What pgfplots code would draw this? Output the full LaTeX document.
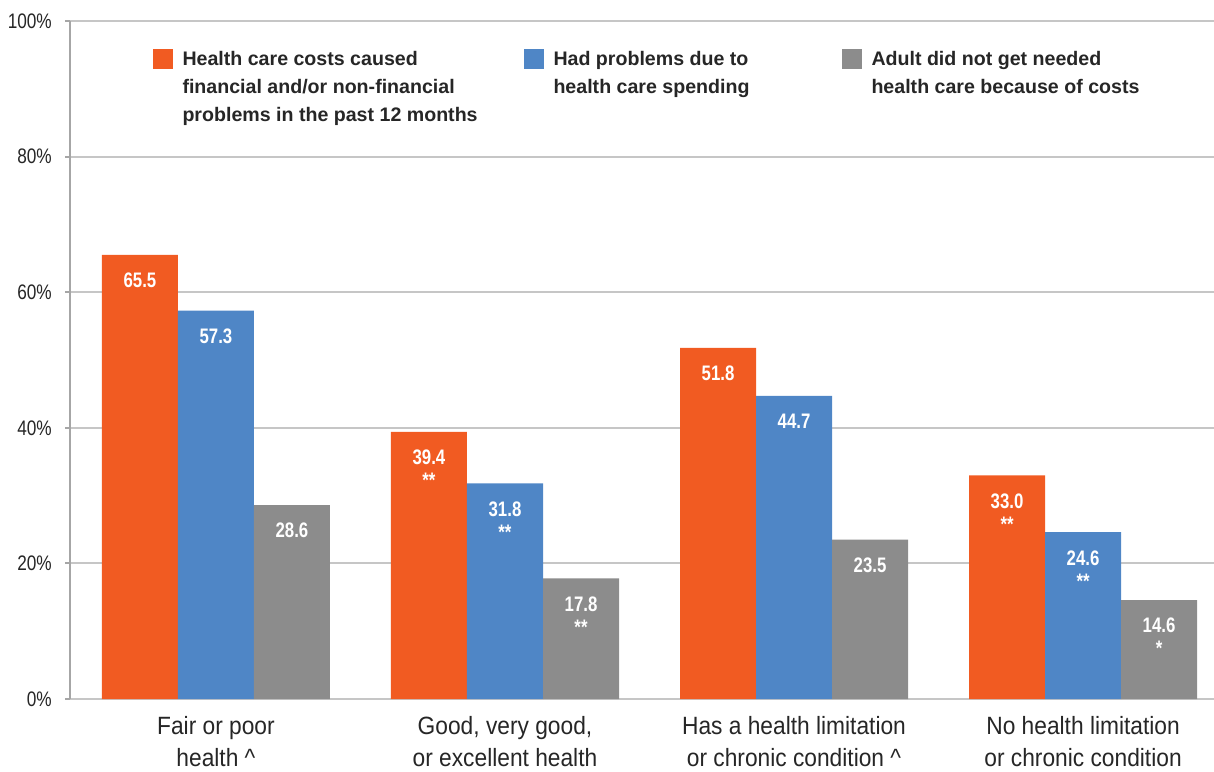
\documentclass[border=0pt]{standalone}
\usepackage{pgfplots}
\pgfplotsset{compat=1.18}
\usepackage{pgfplotstable}
\usepackage{fontspec}
\setmainfont{Liberation Sans}
\newfontfamily\tickfont{Liberation Sans}[FakeStretch=0.82]
\newfontfamily\catfont{Liberation Sans}[FakeStretch=0.91]
\newfontfamily\valfont{Liberation Sans}[FakeStretch=0.8]

\definecolor{costorange}{HTML}{F15B22}
\definecolor{spendblue}{HTML}{4F86C6}
\definecolor{skipgray}{HTML}{8C8C8C}
\definecolor{gridgray}{HTML}{C6C6C6}
\definecolor{axisgray}{HTML}{A6A6A6}
\definecolor{txt}{HTML}{262626}

% x = group, y = percent, lab = printed value, s = number of asterisks
\pgfplotstableread{
x y lab s
0 65.5 65.5 0
1 39.4 39.4 2
2 51.8 51.8 0
3 33.0 33.0 2
}\costs
\pgfplotstableread{
x y lab s
0 57.3 57.3 0
1 31.8 31.8 2
2 44.7 44.7 0
3 24.6 24.6 2
}\spending
\pgfplotstableread{
x y lab s
0 28.6 28.6 0
1 17.8 17.8 2
2 23.5 23.5 0
3 14.6 14.6 1
}\unmet

\pgfplotsset{
  sqbar/.style={ybar, bar width=0.263, bar shift=0pt, draw=none, fill=#1,
    legend image code/.code={\fill[fill=#1] (0pt,-3.4pt) rectangle (20pt,16.6pt);}},
}

\begin{document}
\begin{tikzpicture}
\begin{axis}[
    scale only axis,
    width=1144pt, height=678pt,
    xmin=-0.505, xmax=3.453,
    ymin=0, ymax=100,
    axis x line*=bottom, axis y line*=left,
    axis line style={-},
    x axis line style={draw=gridgray, line width=2pt},
    y axis line style={draw=axisgray, line width=2pt},
    ytick={0,20,...,100},
    yticklabels={0\%,20\%,40\%,60\%,80\%,100\%},
    tick align=outside, major tick length=5pt,
    ytick style={draw=axisgray, line width=2pt},
    xtick style={draw=none},
    ymajorgrids,
    major grid style={draw=gridgray, line width=2pt},
    yticklabel style={font=\tickfont\fontsize{21}{25}\selectfont, text=txt, inner sep=0pt, anchor=east, xshift=-13pt},
    xtick={0,1,2,3},
    xticklabels={Fair or poor\\health \textasciicircum,
        {Good, very good,\\or excellent health},
        Has a health limitation\\or chronic condition \textasciicircum,
        No health limitation\\or chronic condition},
    xticklabel style={font=\catfont\fontsize{25}{32}\selectfont, text=txt, align=center, anchor=north, inner sep=0pt, yshift=-12pt},
    point meta=explicit symbolic,
    visualization depends on={\thisrow{s} \as \nstar},
    nodes near coords={\pgfplotspointmeta\\\ifdim\nstar pt>1.5pt **\else\ifdim\nstar pt>0.5pt *\fi\fi},
    every node near coord/.append style={font=\valfont\bfseries\fontsize{21}{23}\selectfont, text=white, align=center, anchor=north, inner sep=0pt, yshift=-18pt},
    legend columns=3,
    legend style={at={(0.07255,0.9665)}, anchor=north west, draw=none, fill=none,
        inner sep=0pt, outer sep=0pt, column sep=0pt,
        font=\bfseries\fontsize{19.6}{28}\selectfont, text=txt,
        cells={anchor=base west, inner sep=0pt},
        /tikz/every odd column/.append style={column sep=7.5pt}},
]
\addplot[sqbar=costorange] table[x expr=\thisrow{x}-0.263, meta=lab] {\costs};
\addplot[sqbar=spendblue] table[x=x, meta=lab] {\spending};
\addplot[sqbar=skipgray] table[x expr=\thisrow{x}+0.263, meta=lab] {\unmet};
\legend{{\makebox[339.5pt][l]{\begin{tabular}[t]{@{}l@{}}Health care costs caused\\financial and/or non-financial\\problems in the past 12 months\end{tabular}}},
    {\makebox[286.5pt][l]{\begin{tabular}[t]{@{}l@{}}Had problems due to\\health care spending\end{tabular}}},
    {\makebox[300pt][l]{\begin{tabular}[t]{@{}l@{}}Adult did not get needed\\health care because of costs\end{tabular}}}}
\end{axis}
\pgfresetboundingbox
\path[use as bounding box] (-70pt,-72pt) rectangle (1144pt,699pt);
\end{tikzpicture}
\end{document}
